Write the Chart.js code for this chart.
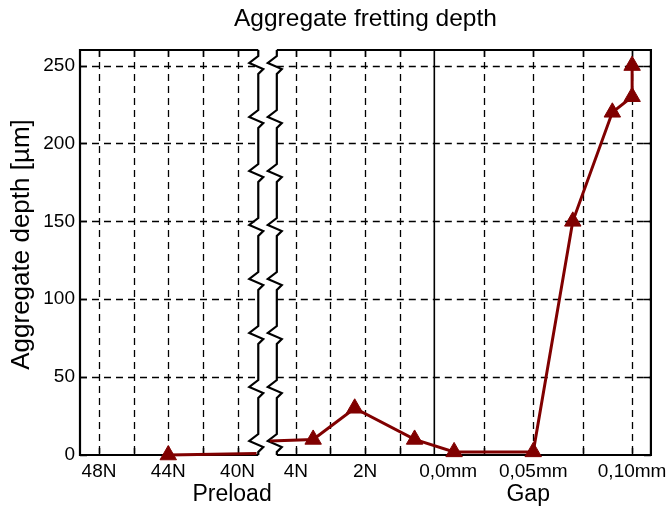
<!DOCTYPE html>
<html><head><meta charset="utf-8">
<script src="https://cdn.jsdelivr.net/npm/chart.js@4.4.0/dist/chart.umd.min.js"></script>
<style>html,body{margin:0;padding:0;background:#fff}#wrap{width:672px;height:508px;position:relative}</style>
</head><body><div id="wrap"><canvas id="c"></canvas></div>
<script>
// ---- data ----
const preloadHighN = [44, 38.9];          // N (left panel, 48N..40N)
const preloadHighDepth = [0, 1];
const preloadHighMarker = [true, false];
const preloadLowN = [4.75, 3.5, 2.3, 0.57]; // N (right panel, 4N..0N)
const preloadLowDepth = [9, 10, 30, 10];
const preloadLowMarker = [false, true, true, true];
const gapMm = [0.01, 0.05, 0.07, 0.09, 0.10, 0.10];
const gapDepth = [2, 2, 150, 220, 230, 250];
const gapMarker = [true, true, true, true, true, true];
const yTicks = [0, 50, 100, 150, 200, 250];
const xTickLabels = ['48N', '44N', '40N', '4N', '2N', '0,0mm', '0,05mm', '0,10mm'];
const gridHighN = [48, 46, 44, 42, 40];
const gridLowN = [4, 3, 2, 1];
const gridGapMm = [0.025, 0.05, 0.075, 0.10];
const titleText = 'Aggregate fretting depth';
const yTitleText = 'Aggregate depth [µm]';
const groupLabels = ['Preload', 'Gap'];

// ---- composite x-axis mapping (unit = one preload grid step) ----
const H = n => (48 - n) / 2;
const LOW0 = 4 + 59 / 35;
const L = n => LOW0 + (4 - n);
const ZERO = L(0);
const G = mm => ZERO + mm / 0.025 * (50 / 35);
const BREAK_START = H(38.8);
const BREAK_END = L(4.55);
const xTickPos = [H(48), H(44), H(40), L(4), L(2), G(0.007), G(0.05), G(0.10)];
const gridX = [...gridHighN.map(H), ...gridLowN.map(L), ...gridGapMm.map(G)];

const R = 9.5;
const pts = [], radii = [];
preloadHighN.forEach((n, i) => { pts.push({x: H(n), y: preloadHighDepth[i]}); radii.push(preloadHighMarker[i] ? R : 0); });
pts.push({x: (BREAK_START + BREAK_END) / 2, y: null}); radii.push(0);
preloadLowN.forEach((n, i) => { pts.push({x: L(n), y: preloadLowDepth[i]}); radii.push(preloadLowMarker[i] ? R : 0); });
gapMm.forEach((m, i) => { pts.push({x: G(m), y: gapDepth[i]}); radii.push(gapMarker[i] ? R : 0); });

const FAM = '"Liberation Sans", Arial, Helvetica, sans-serif';
Chart.defaults.font.family = FAM;
Chart.defaults.color = '#000';

const frame = {
  id: 'frame',
  beforeDatasetsDraw(chart) {
    const {ctx, chartArea: a, scales: {x, y}} = chart;
    const bs = x.getPixelForValue(BREAK_START), be = x.getPixelForValue(BREAK_END);
    const line = (x1, y1, x2, y2) => { ctx.beginPath(); ctx.moveTo(x1, y1); ctx.lineTo(x2, y2); ctx.stroke(); };
    ctx.save();
    ctx.strokeStyle = '#000';
    ctx.setLineDash([7, 5]); ctx.lineWidth = 1.3;
    gridX.forEach(v => { const p = Math.round(x.getPixelForValue(v)) + 0.5; line(p, a.top, p, a.bottom); });
    yTicks.filter(v => v > 0).forEach(v => {
      const p = Math.round(y.getPixelForValue(v)) + 0.5;
      line(a.left, p, bs, p); line(be, p, a.right, p);
    });
    ctx.setLineDash([]);
    ctx.lineWidth = 1.6;
    const zp = x.getPixelForValue(ZERO);
    line(zp, a.top, zp, a.bottom);
    // inward ticks
    ctx.lineWidth = 1.5;
    gridX.forEach(v => { const p = Math.round(x.getPixelForValue(v)) + 0.5; line(p, a.top, p, a.top + 7); line(p, a.bottom, p, a.bottom - 7); });
    yTicks.forEach(v => { const p = Math.round(y.getPixelForValue(v)) + 0.5; line(a.left, p, a.left + 7, p); line(a.right, p, a.right - 7, p); });
    // frame
    ctx.lineWidth = 2.2;
    ctx.beginPath(); ctx.moveTo(bs, a.top); ctx.lineTo(a.left, a.top); ctx.lineTo(a.left, a.bottom); ctx.lineTo(bs, a.bottom); ctx.stroke();
    ctx.beginPath(); ctx.moveTo(be, a.top); ctx.lineTo(a.right, a.top); ctx.lineTo(a.right, a.bottom); ctx.lineTo(be, a.bottom); ctx.stroke();
    const zig = xp => {
      ctx.beginPath(); ctx.moveTo(xp, a.top);
      const step = (a.height - 27) / 7;
      for (let k = 0; k < 8; k++) {
        const yk = a.top + 15 + k * step;
        ctx.lineTo(xp, yk - 9); ctx.lineTo(xp - 9, yk - 2); ctx.lineTo(xp + 5, yk + 4); ctx.lineTo(xp, yk + 9);
      }
      ctx.lineTo(xp, a.bottom); ctx.stroke();
    };
    ctx.lineJoin = 'miter';
    zig(bs); zig(be);
    ctx.restore();
  },
  afterDraw(chart) {
    const {ctx, chartArea: a, scales: {x}} = chart;
    ctx.save();
    ctx.fillStyle = '#000';
    ctx.textAlign = 'center'; ctx.textBaseline = 'middle';
    ctx.font = '24.5px ' + FAM;
    ctx.fillText(titleText, (a.left + a.right) / 2, 19);
    ctx.font = '23px ' + FAM;
    const pre = (x.getPixelForValue(H(48)) + x.getPixelForValue(L(2))) / 2;
    const gap = (x.getPixelForValue(ZERO) + x.getPixelForValue(G(0.10))) / 2 - 5;
    ctx.fillText(groupLabels[0], pre, a.bottom + 40);
    ctx.fillText(groupLabels[1], gap, a.bottom + 40);
    // y-axis title
    ctx.save();
    ctx.translate(22, (a.top + a.bottom) / 2 - 8);
    ctx.rotate(-Math.PI / 2);
    ctx.font = '26px ' + FAM;
    ctx.fillText(yTitleText, 0, 0);
    ctx.restore();
    ctx.restore();
  }
};

new Chart(document.getElementById('c'), {
  type: 'line',
  data: { datasets: [{
    data: pts,
    borderColor: '#800000', backgroundColor: '#800000',
    borderWidth: 3, tension: 0, spanGaps: false,
    pointStyle: 'triangle', pointRadius: radii, pointHoverRadius: radii,
    pointBackgroundColor: '#800000', pointBorderColor: '#800000', pointBorderWidth: 1,
    clip: false
  }]},
  options: {
    responsive: true, maintainAspectRatio: false, animation: false,
    layout: { padding: { left: 0, right: 17, top: 50, bottom: 0 } },
    plugins: {
      legend: { display: false }, tooltip: { enabled: false }, title: { display: false }
    },
    scales: {
      x: {
        type: 'linear', min: H(49.1), max: G(0.1095),
        afterBuildTicks: s => { s.ticks = xTickPos.map(v => ({value: v})); },
        ticks: { callback: (v, i) => xTickLabels[i], font: { size: 19 }, color: '#000', padding: 5, maxRotation: 0, autoSkip: false },
        grid: { display: false, drawTicks: false }, border: { display: false },
        afterFit: s => { s.height = 53; }
      },
      y: {
        min: 0, max: 260,
        afterBuildTicks: s => { s.ticks = yTicks.map(v => ({value: v})); },
        ticks: { font: { size: 19 }, color: '#000', padding: 5 },
        grid: { display: false, drawTicks: false }, border: { display: false },
        afterFit: s => { s.width = 80; }
      }
    }
  },
  plugins: [frame]
});
</script></body></html>
